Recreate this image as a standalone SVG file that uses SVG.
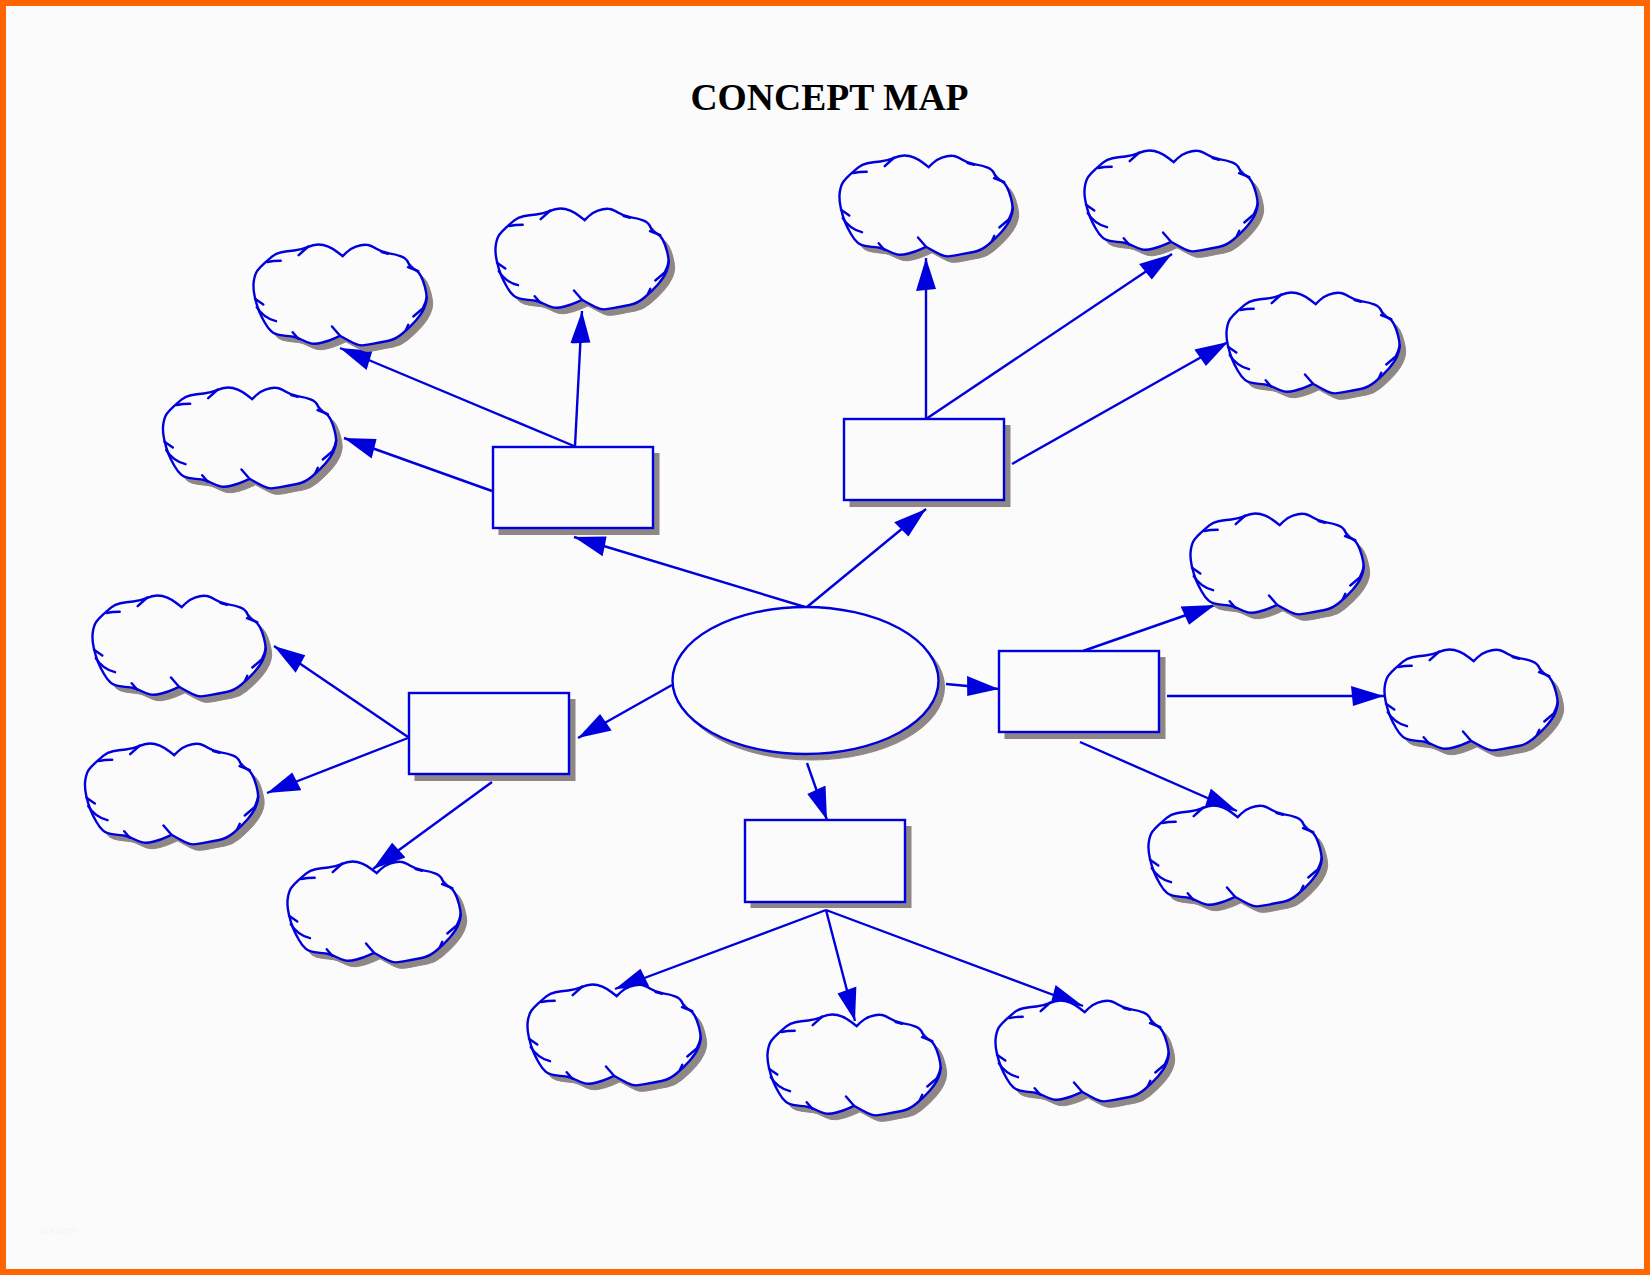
<svg xmlns="http://www.w3.org/2000/svg" width="1650" height="1275" viewBox="0 0 1650 1275">
<style>
.s{fill:#8f8686;stroke:#8f8686;stroke-width:1}
.n{fill:#fbfbfb;stroke:#0000dc;stroke-width:2.4}
.o{fill:none;stroke:#0000dc;stroke-width:2.4;stroke-linejoin:round;stroke-linecap:round}
.c{stroke:#0000dc;stroke-width:2.4;fill:none;marker-end:url(#a)}
.t{font-family:"Liberation Serif","Times New Roman",serif;font-weight:bold;font-size:37.6px;text-anchor:middle;fill:#000}
.w{font-family:"Liberation Sans",Arial,sans-serif;font-size:11px;fill:#f5f5f5}
</style>
<defs>
<marker id="a" markerUnits="userSpaceOnUse" markerWidth="36" markerHeight="24" refX="33" refY="12" orient="auto"><path d="M0,2 L33,12 L2,22 Z" fill="#0000dc"/></marker>
<path id="ol" d="M100,105.3L95,107.6Q90,110 82.5,112Q75,114 70.9,112.9Q66.7,111.7 61.7,109.2Q56.7,106.7 53.4,106.2Q50,105.7 42.5,104.9Q35,104 31.7,101.2Q28.3,98.3 25,92.5Q21.7,86.7 19.2,80.9Q16.7,75 14.7,65.9Q12.7,56.7 13.9,50Q15,43.3 17.5,40Q20,36.7 24,33.1Q28,29.5 32,26.1Q36,22.7 41.4,21.7Q46.7,20.7 54.2,20Q61.7,19.3 67.5,16.7Q73.3,14 78.3,14Q83.3,14 88.3,16.2Q93.3,18.3 98,22L102.7,25.7L106.4,22Q110,18.3 115.9,16.2Q121.7,14 125.9,14.2Q130,14.3 135.9,18Q141.7,21.7 149.2,22.9Q156.7,24 161.7,26.2Q166.7,28.3 168.4,32.5Q170,36.7 174.2,38.7Q178.3,40.7 180.8,45.4Q183.3,50 185,56.7Q186.7,63.3 186.7,67.5Q186.7,71.7 184.2,77.5Q181.7,83.3 175.9,90Q170,96.7 162.5,103Q155,109.3 147.5,110.5Q140,111.7 130.9,113.7Q121.7,115.7 117.5,114.2Q113.3,112.7 106.7,109L100,105.3Z"/>
<g id="cl">
<use href="#ol" x="6" y="6" class="s"/>
<use href="#ol" class="n"/>
<path class="o" d="M27.3,31.5Q33,30.3 40.7,30.3M58.7,24.7 68.3,16M141.7,21.7 148,23.3M168,36.7 178.3,40.7M173.3,86 182.7,78Q186,72 186.7,66.7M15,68.3 23.300,74M16.700,76.700Q24,88 36,90.700M52.700,101.700 58.300,108.300M92,96 100,105.300M166,99.300 168.300,94.300"/>
</g>
</defs>
<rect x="0" y="0" width="1650" height="1275" fill="#ff6600"/>
<rect x="6" y="6" width="1638" height="1263" fill="#fbfbfb"/>
<text class="t" x="829.500" y="110">CONCEPT MAP</text>
<text class="w" x="40" y="1234">vorlage</text>
<g id="connectors">
<line class="c" x1="805" y1="607" x2="574" y2="537"/>
<line class="c" x1="807" y1="607" x2="926" y2="509"/>
<line class="c" x1="946" y1="684" x2="999" y2="689"/>
<line class="c" x1="672" y1="685" x2="578" y2="738"/>
<line class="c" x1="807" y1="763" x2="827" y2="820"/>
<line class="c" x1="574" y1="446" x2="340" y2="348"/>
<line class="c" x1="575" y1="446" x2="582" y2="311"/>
<line class="c" x1="492" y1="491" x2="344" y2="438"/>
<line class="c" x1="926" y1="419" x2="926" y2="258"/>
<line class="c" x1="926" y1="419" x2="1172" y2="254"/>
<line class="c" x1="1012" y1="464" x2="1228" y2="342"/>
<line class="c" x1="1083" y1="651" x2="1215" y2="605"/>
<line class="c" x1="1167" y1="696" x2="1384" y2="696"/>
<line class="c" x1="1080" y1="742" x2="1237" y2="811"/>
<line class="c" x1="408" y1="737" x2="274" y2="646"/>
<line class="c" x1="408" y1="738" x2="267" y2="793"/>
<line class="c" x1="492" y1="782" x2="373" y2="869"/>
<line class="c" x1="826" y1="910" x2="615" y2="989"/>
<line class="c" x1="826" y1="910" x2="855" y2="1021"/>
<line class="c" x1="826" y1="910" x2="1083" y2="1006"/>
</g>
<g id="center"><ellipse class="s" cx="811.500" cy="687" rx="133" ry="73"/><ellipse class="n" cx="805.500" cy="680.500" rx="133" ry="73.500"/></g>
<g id="box1"><rect class="s" x="499" y="453.500" width="160" height="81"/><rect class="n" x="493" y="447" width="160" height="81"/></g>
<g id="box2"><rect class="s" x="850" y="425.500" width="160" height="81"/><rect class="n" x="844" y="419" width="160" height="81"/></g>
<g id="box3"><rect class="s" x="1005" y="657.500" width="160" height="81"/><rect class="n" x="999" y="651" width="160" height="81"/></g>
<g id="box4"><rect class="s" x="415" y="699.500" width="160" height="81"/><rect class="n" x="409" y="693" width="160" height="81"/></g>
<g id="box5"><rect class="s" x="751" y="826.500" width="160" height="81"/><rect class="n" x="745" y="820" width="160" height="82"/></g>
<g id="cloud1" transform="translate(240,230.500)"><use href="#cl"/></g>
<g id="cloud2" transform="translate(482,194.500)"><use href="#cl"/></g>
<g id="cloud3" transform="translate(149.500,373.500)"><use href="#cl"/></g>
<g id="cloud4" transform="translate(826,141.500)"><use href="#cl"/></g>
<g id="cloud5" transform="translate(1071,136.500)"><use href="#cl"/></g>
<g id="cloud6" transform="translate(1213,278.500)"><use href="#cl"/></g>
<g id="cloud7" transform="translate(1177,499.500)"><use href="#cl"/></g>
<g id="cloud8" transform="translate(1371,635.500)"><use href="#cl"/></g>
<g id="cloud9" transform="translate(1135,791.500)"><use href="#cl"/></g>
<g id="cloud10" transform="translate(79,581.500)"><use href="#cl"/></g>
<g id="cloud11" transform="translate(71.500,729.500)"><use href="#cl"/></g>
<g id="cloud12" transform="translate(274,847.500)"><use href="#cl"/></g>
<g id="cloud13" transform="translate(514,970.500)"><use href="#cl"/></g>
<g id="cloud14" transform="translate(754,1000.500)"><use href="#cl"/></g>
<g id="cloud15" transform="translate(982,986.500)"><use href="#cl"/></g>
</svg>
